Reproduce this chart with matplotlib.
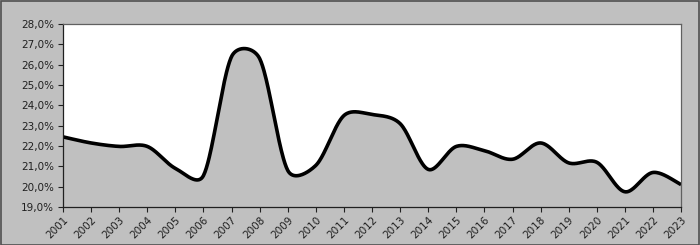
import numpy as np
import matplotlib
matplotlib.use("Agg")
import matplotlib.pyplot as plt
from matplotlib.ticker import FuncFormatter

# dados
anos = list(range(2001, 2024))
valores = [22.45, 22.15, 21.98, 21.98, 20.9, 20.55, 26.4, 26.3, 20.8, 21.05,
           23.5, 23.55, 23.1, 20.85, 21.98, 21.77, 21.35, 22.15, 21.17, 21.2,
           19.75, 20.7, 20.1]
y_min, y_max = 19, 28

bg = "#c0c0c0"
fig = plt.figure(figsize=(7, 2.45), dpi=100, facecolor=bg)
# moldura externa
fig.patches.append(plt.Rectangle((0.001, 0.002), 0.997, 0.994, transform=fig.transFigure,
                                 fill=False, edgecolor="#505050", linewidth=1.2))
ax = fig.add_axes([0.09, 0.155, 0.883, 0.747])
ax.set_facecolor("white")
ax.set_xlim(anos[0], anos[-1])
ax.set_ylim(y_min, y_max)


# suavizacao parecida com a do Excel (bezier em coordenadas de tela)
def suaviza(xs, ys):
    pts = ax.transData.transform(np.column_stack([xs, ys]))
    p = np.vstack([pts[0], pts, pts[-1]])
    t = np.linspace(0, 1, 40)[:, None]
    out = []
    for i in range(len(pts) - 1):
        p0, p1, p2, p3 = p[i], p[i + 1], p[i + 2], p[i + 3]
        d01 = np.hypot(*(p1 - p0))
        d12 = np.hypot(*(p2 - p1))
        d23 = np.hypot(*(p3 - p2))
        k1 = min(1.0, (2 * d12 / (d01 + d12)) ** 0.5)
        k2 = min(1.0, (2 * d12 / (d12 + d23)) ** 0.5)
        c1 = p1 + (p2 - p0) / 6 * k1
        c2 = p2 - (p3 - p1) / 6 * k2
        seg = ((1 - t) ** 3) * p1 + 3 * ((1 - t) ** 2) * t * c1 + 3 * (1 - t) * t ** 2 * c2 + t ** 3 * p2
        out.append(seg if i == 0 else seg[1:])
    out = np.vstack(out)
    return ax.transData.inverted().transform(out)


curva = suaviza(anos, valores)
ax.fill_between(curva[:, 0], y_min, curva[:, 1], color=bg, linewidth=0)
ax.plot(curva[:, 0], curva[:, 1], color="black", linewidth=2.6, solid_capstyle="butt")

ax.set_xticks(anos)
ax.set_xticklabels([str(a) for a in anos], rotation=45, ha="right", rotation_mode="anchor")
ax.set_yticks(np.arange(y_min, y_max + 1, 1))
ax.yaxis.set_major_formatter(FuncFormatter(lambda v, p: f"{v:.1f}%".replace(".", ",")))
ax.tick_params(axis="both", labelsize=7.5, colors="#202020", length=3.5, width=0.8, direction="out")
ax.tick_params(axis="x", pad=2)
ax.tick_params(axis="y", pad=3)
for s in ["left", "bottom"]:
    ax.spines[s].set_color("#202020")
    ax.spines[s].set_linewidth(0.9)
for s in ["top", "right"]:
    ax.spines[s].set_color("#606060")
    ax.spines[s].set_linewidth(0.9)

fig.savefig("out.png", dpi=100, facecolor=bg)
